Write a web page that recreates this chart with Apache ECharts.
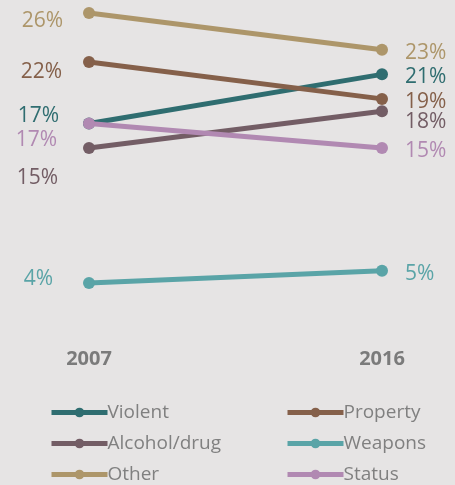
<!DOCTYPE html>
<html>
<head>
<meta charset="utf-8">
<script src="https://cdn.jsdelivr.net/npm/echarts@6/dist/echarts.min.js"></script>
<style>
html,body{margin:0;padding:0;background:#e6e4e4;}
#c{width:455px;height:485px;}
</style>
</head>
<body>
<div id="c"></div>
<script>
var years = ['2007', '2016'];
var seriesNames = ['Violent', 'Property', 'Alcohol/drug', 'Weapons', 'Other', 'Status'];
var violentVals = [17, 21];
var propertyVals = [22, 19];
var alcoholDrugVals = [15, 18];
var weaponsVals = [4, 5];
var otherVals = [26, 23];
var statusVals = [17, 15];

var allValues = [violentVals, propertyVals, alcoholDrugVals, weaponsVals, otherVals, statusVals];
var colors = ['#2f6d70', '#85604a', '#735d65', '#5aa4a7', '#ad966a', '#b189b2'];
// label nudges [2007 [dx,dy], 2016 [dx,dy]]
var labelNudge = [
  [[-3, -7], [0, 3]],
  [[0, 10], [0, 3.5]],
  [[-4, 30.5], [0, 10.5]],
  [[-9, -4.2], [0, 3]],
  [[1, 8.2], [0, 3]],
  [[-5, 17], [0, 3.5]]
];

var FONT = '"Open Sans", sans-serif';

var series = seriesNames.map(function (name, i) {
  return {
    name: name,
    type: 'line',
    symbol: 'circle',
    symbolSize: 12,
    z: 2 + i,
    lineStyle: { width: 5, color: colors[i] },
    itemStyle: { color: colors[i] },
    emphasis: { disabled: true },
    data: allValues[i].map(function (v, j) {
      return {
        value: v,
        label: {
          show: true,
          position: j === 0 ? 'left' : 'right',
          distance: j === 0 ? 21 : 17,
          offset: labelNudge[i][j],
          formatter: '{c}%',
          color: colors[i],
          fontSize: 21,
          fontFamily: FONT
        }
      };
    })
  };
});

var legendCommon = {
  orient: 'vertical',
  top: 402,
  height: 120,
  itemWidth: 56,
  itemHeight: 12,
  itemGap: 10,
  padding: 0,
  selectedMode: false,
  lineStyle: { width: 5 },
  textStyle: { color: '#808080', fontSize: 19, fontFamily: FONT, lineHeight: 21, padding: [0, 0, 0, -5] }
};

var option = {
  backgroundColor: '#e6e4e4',
  animation: false,
  color: colors,
  grid: { left: 89, right: 73, top: 13, bottom: 153 },
  xAxis: {
    type: 'category',
    data: years,
    boundaryGap: false,
    axisLine: { show: false },
    axisTick: { show: false },
    splitLine: { show: false },
    axisLabel: { color: '#7b7b7b', fontWeight: 'bold', fontSize: 20, fontFamily: FONT, margin: 17 }
  },
  yAxis: {
    type: 'value',
    min: 0,
    max: 26,
    show: false
  },
  legend: [
    Object.assign({}, legendCommon, { left: 49, data: ['Violent', 'Alcohol/drug', 'Other'] }),
    Object.assign({}, legendCommon, { left: 285, data: ['Property', 'Weapons', 'Status'] })
  ],
  series: series
};

var chart = echarts.init(document.getElementById('c'), null, { renderer: 'canvas' });
chart.setOption(option);
</script>
</body>
</html>
